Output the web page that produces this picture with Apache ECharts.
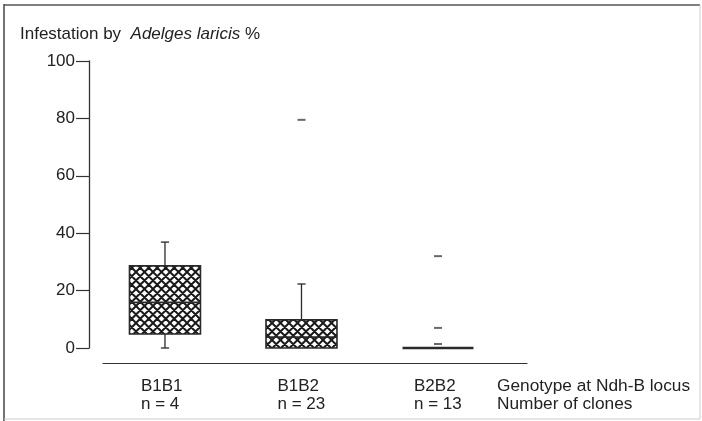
<!DOCTYPE html>
<html><head><meta charset="utf-8">
<script src="https://cdn.jsdelivr.net/npm/echarts@6/dist/echarts.min.js"></script>
<style>html,body{margin:0;padding:0;background:#fff}#c{width:702px;height:421px}</style>
</head><body><div id="c"></div>
<script>
const genotypes = ['B1B1', 'B1B2', 'B2B2'];
const clones = ['n = 4', 'n = 23', 'n = 13'];
const positions = [1, 2, 3];
const boxMin = [0, 0, 0];
const boxQ1 = [4.9, 0, 0];
const boxMedian = [15.9, 3.8, 0];
const boxQ3 = [28.6, 9.8, 0];
const boxMax = [36.9, 22.3, 0];
const outlierPos = [2, 3, 3, 3];
const outlierVal = [79.5, 32, 7, 1.4];
const yTickValues = [0, 20, 40, 60, 80, 100];

const FONT = 'Liberation Sans, Arial, sans-serif';
const INK = '#222';

function hatch() {
  const s = 8.5, n = 17, c = document.createElement('canvas');
  c.width = n; c.height = n;
  const g = c.getContext('2d');
  g.fillStyle = '#fff'; g.fillRect(0, 0, n, n);
  g.strokeStyle = '#1a1a1a'; g.lineWidth = 2;
  g.beginPath();
  for (let o = -n; o <= n; o += s) {
    g.moveTo(o - 1, -1); g.lineTo(o + n + 1, n + 1);
    g.moveTo(o + n + 1, -1); g.lineTo(o - 1, n + 1);
  }
  g.stroke();
  return c;
}
const pattern = { image: hatch(), repeat: 'repeat' };

const boxData = positions.map((p, i) => [p, boxMin[i], boxQ1[i], boxMedian[i], boxQ3[i], boxMax[i]]);
const outlierData = outlierPos.map((p, i) => [p, outlierVal[i]]);

const chart = echarts.init(document.getElementById('c'), null, { renderer: 'canvas' });
chart.setOption({
  animation: false,
  backgroundColor: '#fff',
  textStyle: { fontFamily: FONT, color: INK },
  title: {
    left: 20, top: 26, padding: 0,
    text: '{n|Infestation by  }{i|Adelges laricis}{n| %}',
    textStyle: {
      fontWeight: 'normal',
      rich: {
        n: { fontSize: 17, fontFamily: FONT, color: INK, fontWeight: 'normal' },
        i: { fontSize: 17, fontFamily: FONT, color: INK, fontWeight: 'normal', fontStyle: 'italic' }
      }
    }
  },
  grid: { left: 103, right: 175, top: 61, bottom: 73 },
  xAxis: {
    type: 'value', min: 0.546, max: 3.652, offset: 15,
    splitLine: { show: false },
    axisTick: { show: false },
    axisLine: { show: true, onZero: false, lineStyle: { color: '#333', width: 1.2 } },
    axisLabel: {
      customValues: positions,
      margin: 14,
      formatter: v => {
        const i = positions.indexOf(v);
        return i < 0 ? '' : '{a|' + genotypes[i] + '}\n{a|' + clones[i] + '}';
      },
      rich: { a: { width: 48, align: 'left', fontSize: 17, lineHeight: 18, fontFamily: FONT, color: INK } }
    }
  },
  yAxis: {
    type: 'value', min: 0, max: 100, interval: 20, offset: 14,
    splitLine: { show: false },
    axisLine: { show: true, onZero: false, lineStyle: { color: '#333', width: 1.3 } },
    axisTick: { show: true, inside: false, length: 13, lineStyle: { color: '#333', width: 1.2 } },
    axisLabel: { margin: 14, fontSize: 17, fontFamily: FONT, color: INK, customValues: yTickValues }
  },
  graphic: [
    { type: 'text', left: 497, top: 377, style: { text: 'Genotype at Ndh-B locus\nNumber of clones', fontSize: 17.3, lineHeight: 18, fontFamily: FONT, fill: INK } },
    { type: 'line', shape: { x1: 4, y1: 4, x2: 4, y2: 421 }, style: { stroke: '#444', lineWidth: 1.5 } },
    { type: 'line', shape: { x1: 4, y1: 5, x2: 700, y2: 5 }, style: { stroke: '#555', lineWidth: 1.5 } },
    { type: 'line', shape: { x1: 700, y1: 5, x2: 700, y2: 419 }, style: { stroke: '#ccc', lineWidth: 1 } },
    { type: 'line', shape: { x1: 4, y1: 419, x2: 700, y2: 419 }, style: { stroke: '#ccc', lineWidth: 1 } }
  ],
  series: [
    {
      type: 'custom',
      data: boxData,
      encode: { x: 0, y: [1, 2, 3, 4, 5] },
      renderItem: (params, api) => {
        const x = api.value(0), mn = api.value(1), q1 = api.value(2), md = api.value(3), q3 = api.value(4), mx = api.value(5);
        const w = api.size([0.52, 0])[0], cw = api.size([0.06, 0])[0];
        const pQ3 = api.coord([x, q3]), pQ1 = api.coord([x, q1]), pMd = api.coord([x, md]);
        const pMx = api.coord([x, mx]), pMn = api.coord([x, mn]);
        const cx = pQ3[0];
        const stroke = '#2a2a2a';
        const ch = [];
        if (mx > q3) {
          ch.push({ type: 'line', shape: { x1: cx, y1: pQ3[1], x2: cx, y2: pMx[1] }, style: { stroke, lineWidth: 1.3 } });
          ch.push({ type: 'line', shape: { x1: cx - cw / 2, y1: pMx[1], x2: cx + cw / 2, y2: pMx[1] }, style: { stroke, lineWidth: 1.3 } });
        }
        if (mn < q1) {
          ch.push({ type: 'line', shape: { x1: cx, y1: pQ1[1], x2: cx, y2: pMn[1] }, style: { stroke, lineWidth: 1.3 } });
          ch.push({ type: 'line', shape: { x1: cx - cw / 2, y1: pMn[1], x2: cx + cw / 2, y2: pMn[1] }, style: { stroke, lineWidth: 1.3 } });
        }
        if (q3 > q1) {
          ch.push({ type: 'rect', shape: { x: cx - w / 2, y: pQ3[1], width: w, height: pQ1[1] - pQ3[1] }, style: { fill: pattern, stroke, lineWidth: 1.6 } });
        }
        ch.push({ type: 'line', shape: { x1: cx - w / 2, y1: pMd[1], x2: cx + w / 2, y2: pMd[1] }, style: { stroke, lineWidth: q3 > q1 ? 1.6 : 2.6 } });
        return { type: 'group', children: ch };
      }
    },
    {
      type: 'scatter',
      data: outlierData,
      symbol: 'rect',
      symbolSize: [8, 2],
      itemStyle: { color: '#444' }
    }
  ]
});
</script>
</body></html>
